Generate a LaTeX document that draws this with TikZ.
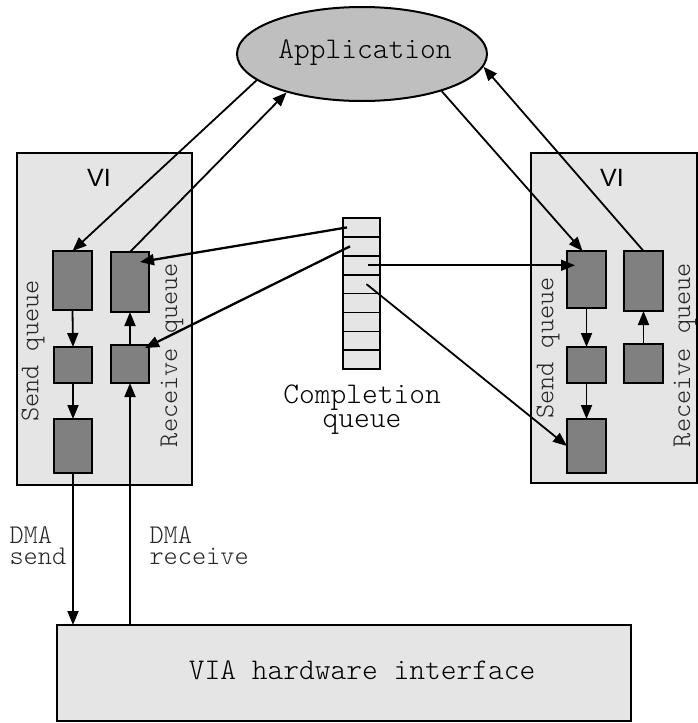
\documentclass[tikz,border=0pt]{standalone}
\usepackage{fontspec}
\newfontfamily\monofam{Latin Modern Mono Light}
\newfontfamily\sansfam{Liberation Sans}
\usetikzlibrary{arrows.meta,shapes.geometric,calc}

\tikzset{
  vibox/.style={draw=black, fill=gray!20, line width=2pt, inner sep=0pt, outer sep=0pt},
  qbox/.style={draw=black, fill=gray, line width=2pt, inner sep=0pt, outer sep=0pt},
  cell/.style={draw=black, fill=gray!20, line width=1.7pt, inner sep=0pt, outer sep=0pt,
               minimum width=37pt, minimum height=18.9pt},
  bigtext/.style={font=\monofam\fontsize{30}{24}\selectfont},
  smalltext/.style={font=\monofam\fontsize{27}{21}\selectfont, text=black!85},
  vilabel/.style={font=\sansfam\fontsize{25}{28}\selectfont},
  arr/.style={line width=1.8pt, -{Triangle[length=14pt,width=11pt]}},
  thickarr/.style={line width=2.3pt, -{Triangle[length=14pt,width=11pt]}},
}

\begin{document}
\begin{tikzpicture}[x=1pt,y=-1pt]
\useasboundingbox (0,0) rectangle (698,723);

% application
\node[ellipse, draw=black, fill=gray!50, line width=2pt, inner sep=0pt,
      minimum width=250pt, minimum height=94pt] (app) at (362,54) {};
\node[bigtext] (apptext) at (365,53) {Application};

% left VI
\node[vibox, minimum width=175pt, minimum height=332pt] (lvi) at (104.5,319) {};
\node[vilabel] (lvilabel) at (99,178) {VI};
\node[qbox, minimum width=39pt, minimum height=59pt] (ls1) at (72.5,280.5) {};
\node[qbox, minimum width=38pt, minimum height=36pt] (ls2) at (73,365) {};
\node[qbox, minimum width=38pt, minimum height=54pt] (ls3) at (73,446) {};
\node[qbox, minimum width=38pt, minimum height=60pt] (lr1) at (130,282) {};
\node[qbox, minimum width=38pt, minimum height=38pt] (lr2) at (130,364) {};
\node[smalltext, rotate=90] (lsq) at (33,351) {Send queue};
\node[smalltext, rotate=90] (lrq) at (172,355) {Receive queue};

% right VI
\node[vibox, minimum width=166pt, minimum height=330pt] (rvi) at (613.5,318) {};
\node[vilabel] (rvilabel) at (612,178) {VI};
\node[qbox, minimum width=39pt, minimum height=57pt] (rs1) at (586.5,279.5) {};
\node[qbox, minimum width=39pt, minimum height=36pt] (rs2) at (586.5,365) {};
\node[qbox, minimum width=39pt, minimum height=54pt] (rs3) at (586.5,446) {};
\node[qbox, minimum width=39pt, minimum height=60pt] (rr1) at (643.5,281) {};
\node[qbox, minimum width=39pt, minimum height=39pt] (rr2) at (643.5,363.5) {};
\node[smalltext, rotate=90] (rsq) at (548,348) {Send queue};
\node[smalltext, rotate=90] (rrq) at (685,355) {Receive queue};

% completion queue
\foreach \i in {1,...,8}
  \node[cell] (c\i) at (361.5,{218+18.9*(\i-0.5)}) {};
\node[bigtext, align=center] (cqlabel) at (362,410) {Completion\\queue};

% hardware interface
\node[vibox, minimum width=574pt, minimum height=96pt] (via) at (344,673) {};
\node[bigtext] (vialabel) at (362,670) {VIA hardware interface};

% DMA labels
\node[smalltext, align=left, anchor=west] (dmas) at (6,546) {DMA\\send};
\node[smalltext, align=left, anchor=west] (dmar) at (146,546) {DMA\\receive};

% queue chains
\draw[arr] (ls1.south) -- (ls2.north);
\draw[arr] (ls2.south) -- (ls3.north);
\draw[arr] (lr2.north) -- (lr1.south);
\draw[arr] (rs1.south) -- (rs2.north);
\draw[arr] (rs2.south) -- (rs3.north);
\draw[arr] (rr2.north) -- (rr1.south);

% application <-> queues
\draw[arr] (app.194) -- (ls1.north);
\draw[arr] (lr1.north) -- (app.207);
\draw[arr] (app.335) -- ([xshift=-4pt]rs1.north);
\draw[arr] (rr1.north) -- (app.354);

% completion queue entries
\draw[thickarr] ([xshift=4pt]c1.west) -- ([shift={(-9,10)}]lr1.north east);
\draw[thickarr] ([xshift=7pt]c2.west) -- ([shift={(-4,3)}]lr2.north east);
\draw[arr] ([xshift=6pt]c3.center) -- ($(c3.center -| rs1.west)+(8,0)$);
\draw[arr] ([xshift=5pt]c4.center) -- (rs3.west);

% DMA transfers
\draw[arr] (ls3.south) -- (ls3.south |- via.north);
\draw[arr] (lr2.south |- via.north) -- (lr2.south);
\end{tikzpicture}
\end{document}
